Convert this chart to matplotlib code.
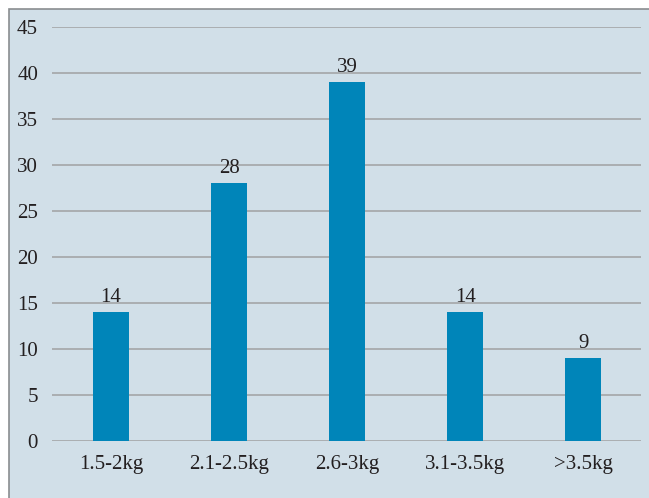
import matplotlib.pyplot as plt
from matplotlib.patches import Rectangle

categories = ["1.5-2kg", "2.1-2.5kg", "2.6-3kg", "3.1-3.5kg", ">3.5kg"]
counts = [14, 28, 39, 14, 9]
y_ticks = [0, 5, 10, 15, 20, 25, 30, 35, 40, 45]

W, H = 649, 498
bg = "#d1dfe8"
bar_color = "#0085b9"
grid_color = "#a7aaad"
text_color = "#231f20"

plt.rcParams["font.family"] = ["Liberation Serif", "DejaVu Serif"]

fig = plt.figure(figsize=(W / 100, H / 100), dpi=100)
fig.patch.set_facecolor("white")

# Framed panel behind the plot
frame = Rectangle((9 / W, -0.05), 1.1, (H - 9) / H + 0.05,
                  transform=fig.transFigure, facecolor=bg,
                  edgecolor="#8a8d90", linewidth=1.2, zorder=-10)
fig.patches.append(frame)

ax = fig.add_axes([52 / W, (H - 441) / H, (641 - 52) / W, (441 - 27) / H])
ax.set_facecolor("none")

x = range(len(categories))
bars = ax.bar(x, counts, width=0.305, color=bar_color, zorder=3)

for xi, v in zip(x, counts):
    ax.text(xi, v + 0.55, str(v), ha="center", va="bottom",
            fontsize=15, color=text_color, zorder=4)

ax.set_xlim(-0.5, 4.49)
ax.set_ylim(0, 45)
ax.set_yticks(y_ticks)
ax.set_xticks(list(x))
ax.set_xticklabels(categories)
ax.tick_params(axis="both", length=0, labelsize=15, labelcolor=text_color)
ax.tick_params(axis="y", pad=10)
ax.tick_params(axis="x", pad=10)

for t in y_ticks:
    ax.axhline(t, color=grid_color, linewidth=1.3, zorder=1)

for s in ax.spines.values():
    s.set_visible(False)

fig.savefig("out.png", dpi=100)
